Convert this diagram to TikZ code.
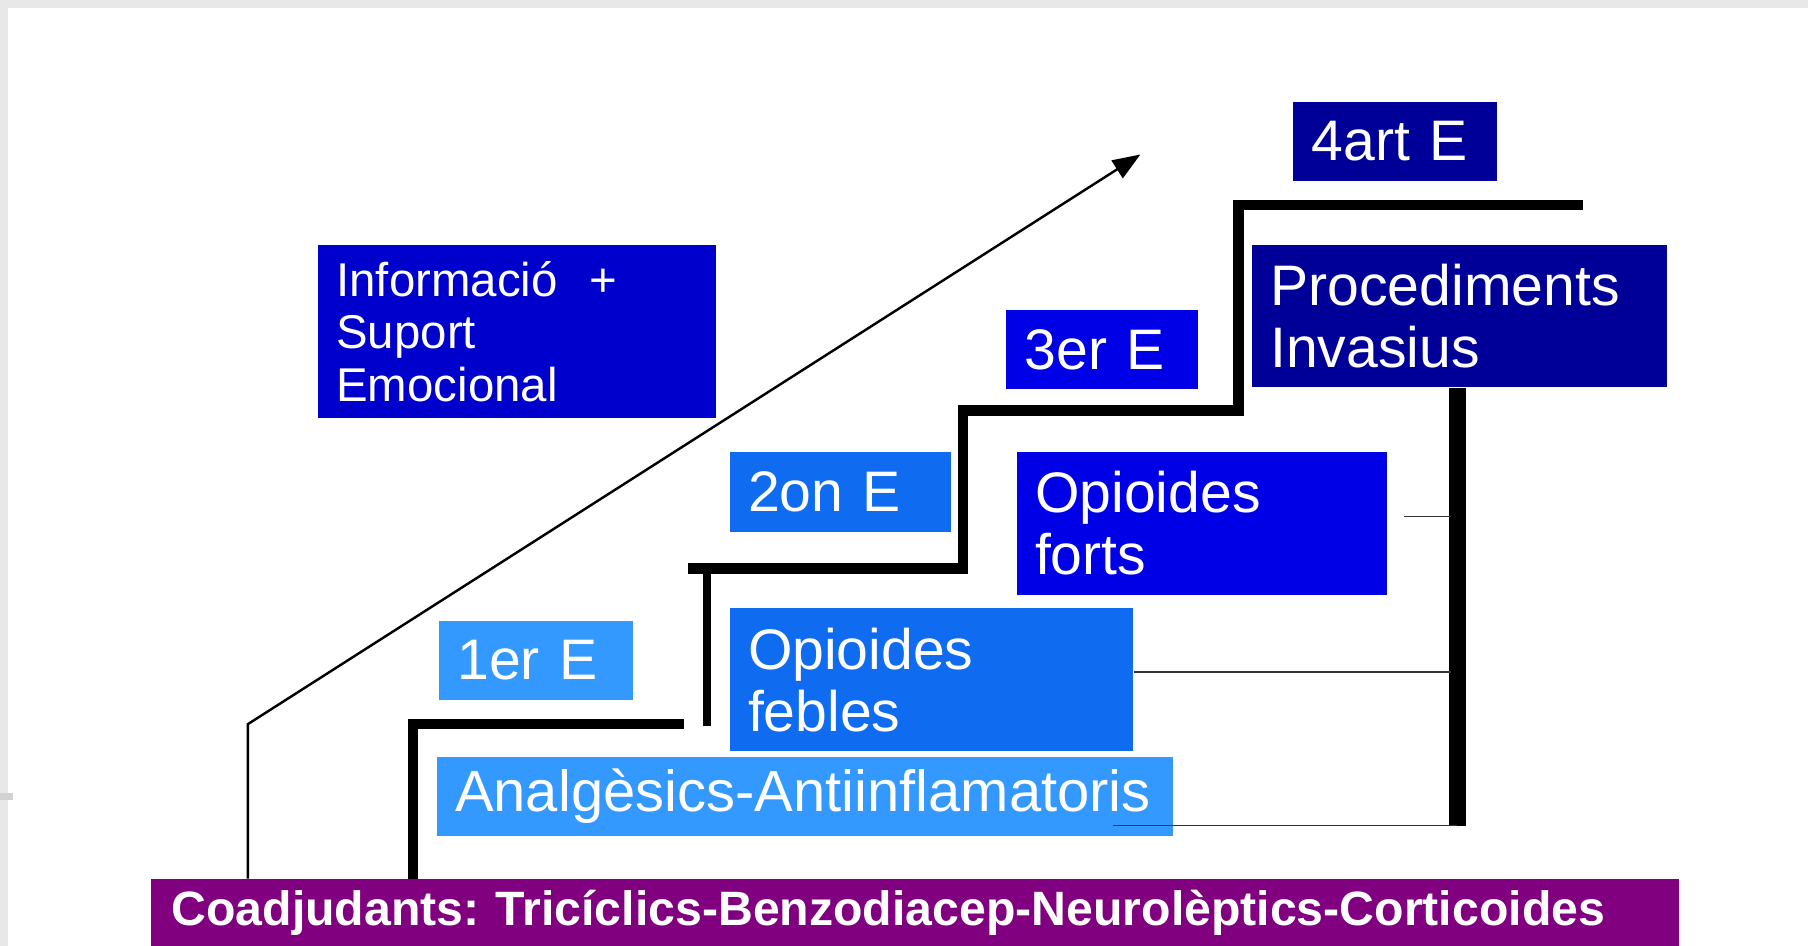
\documentclass[tikz,border=0pt]{standalone}
\usepackage{fontspec}
\setmainfont{Liberation Sans}
\usetikzlibrary{arrows.meta}
\definecolor{navy}{HTML}{000099}
\definecolor{blueA}{HTML}{0000CC}
\definecolor{blueB}{HTML}{0000E6}
\definecolor{blueC}{HTML}{0F6BF0}
\definecolor{blueD}{HTML}{3399FF}
\definecolor{purp}{HTML}{800080}
\definecolor{edgegray}{HTML}{E8E8E8}
\frenchspacing
\begin{document}
\begin{tikzpicture}[x=0.1mm,y=-0.1mm,
  box/.style={rectangle, anchor=north west, inner xsep=1.6mm, inner ysep=0pt,
    text=white, align=left, font=\fontsize{14.1pt}{15.3pt}\selectfont},
  stair/.style={line width=0.9mm, line cap=butt, draw=black},
  bigbar/.style={line width=1.4mm, line cap=butt, draw=black},
  thinline/.style={line width=0.45pt, draw=black!80},
  arrowline/.style={line width=0.6pt, draw=black, -{Triangle[length=2.4mm,width=1.8mm]}}]
\useasboundingbox (0,0) rectangle (1568,820);
\fill[white] (0,0) rectangle (1568,820);
\fill[edgegray] (0,0) rectangle (1568,7);
\fill[edgegray] (0,0) rectangle (7,820);
\fill[gray!35] (0,688) rectangle (11,694);

% boxes
\node[box, fill=blueA, text width=31.3mm, minimum height=15mm,
  font=\fontsize{11.7pt}{12.9pt}\selectfont] (info) at (275,212)
  {Informació~~+\\Suport\\Emocional};
\node[box, fill=navy, text width=14.5mm, minimum height=6.8mm] (e4) at (1121,88) {4art E};
\node[box, fill=navy, text width=32.8mm, minimum height=12.3mm,
  font=\fontsize{14.1pt}{15.1pt}\selectfont] (proc) at (1085,212) {Procediments\\Invasius};
\node[box, fill=blueB, text width=13.4mm, minimum height=6.9mm] (e3) at (872,268) {3er E};
\node[box, fill=blueB, text width=28.9mm, minimum height=12.4mm] (forts) at (881,391) {Opioides\\forts};
\node[box, fill=blueC, text width=16mm, minimum height=7mm] (e2) at (632,391) {2on E};
\node[box, fill=blueC, text width=31.8mm, minimum height=12.4mm] (febles) at (632,527) {Opioides\\febles};
\node[box, fill=blueD, text width=13.6mm, minimum height=6.8mm] (e1) at (380,538) {1er E};
\node[box, fill=blueD, text width=60.7mm, minimum height=6.8mm,
  font=\fontsize{14.3pt}{15.3pt}\selectfont] (anal) at (378,656) {Analgèsics-Antiinflamatoris};
\node[box, fill=purp, inner xsep=1.8mm, text width=128.9mm, minimum height=5.8mm,
  font=\fontsize{11.9pt}{13pt}\selectfont\bfseries] (coad) at (130,762)
  {Coadjudants: Tricíclics-Benzodiacep-Neurolèptics-Corticoides};

% staircase
\draw[stair] (358,762) -- (358,628) -- (593,628);
\draw[stair, line width=0.75mm] (613,630) -- (613,493);
\draw[stair] (597,493) -- (835,493) -- (835,356) -- (1074,356) -- (1074,178) -- (1373,178);

% right bar and thin connectors
\coordinate (bartop) at (proc.south -| 1264,0);
\coordinate (barbot) at (1264,716);
\draw[bigbar] (bartop) -- (barbot);
\coordinate (t1a) at (1218,448);
\coordinate (t1b) at (1258,448);
\coordinate (t2a) at (febles.east |- 0,583);
\coordinate (t2b) at (1258,583);
\coordinate (t3a) at (965,716);
\draw[thinline] (t1a) -- (t1b);
\draw[thinline] (t2a) -- (t2b);
\draw[thinline] (t3a) -- (barbot);

% ascending arrow
\coordinate (a0) at (coad.north -| 215,0);
\coordinate (a1) at (215,628);
\coordinate (a2) at (989,134);
\draw[arrowline] (a0) -- (a1) -- (a2);
\end{tikzpicture}
\end{document}
